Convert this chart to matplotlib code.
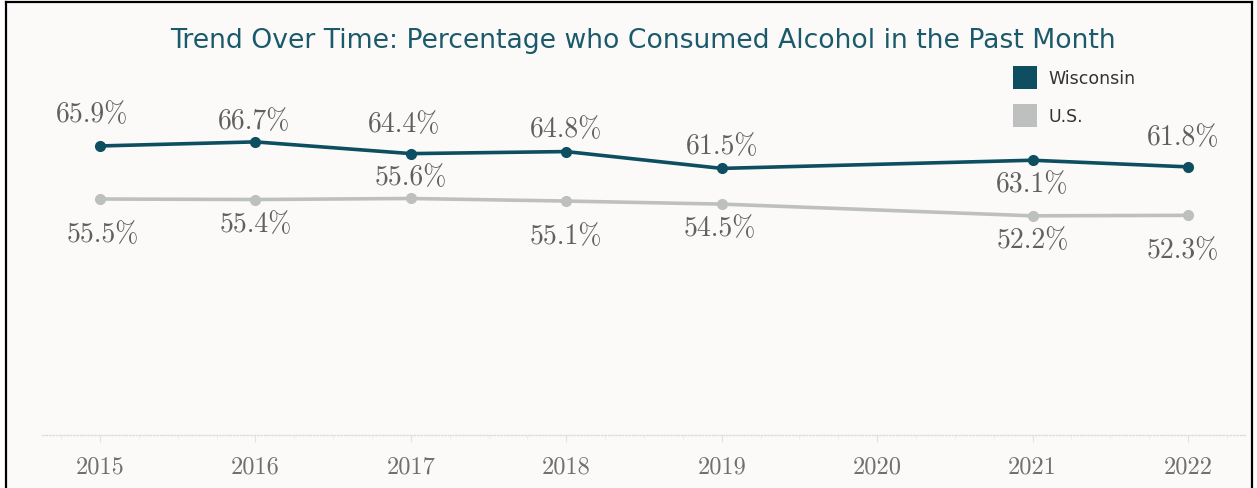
import matplotlib
matplotlib.use("Agg")
import matplotlib.pyplot as plt
from matplotlib.patches import Rectangle
from matplotlib.lines import Line2D

# --- data ---
years = [2015, 2016, 2017, 2018, 2019, 2021, 2022]
wisconsin = [65.9, 66.7, 64.4, 64.8, 61.5, 63.1, 61.8]
us = [55.5, 55.4, 55.6, 55.1, 54.5, 52.2, 52.3]
tick_years = [2015, 2016, 2017, 2018, 2019, 2020, 2021, 2022]
series_names = ["Wisconsin", "U.S."]

# label offsets in pixels (dx, dy), up is positive
wi_offsets = [(-8, 32), (-1, 21), (-7, 30), (0, 23), (0, 22), (0, -24), (-5, 30)]
us_offsets = [(3, -35), (0, -24), (0, 22), (0, -35), (-2, -24), (0, -24), (-5, -35)]

WI_COLOR = "#0d4f60"
US_COLOR = "#bec0bf"
BG = "#fbfaf9"

W, H = 1257, 489
fig = plt.figure(figsize=(W / 100, H / 100), dpi=100)
fig.patch.set_facecolor("white")


def fx(px):
    return px / W


def fy(py):
    return 1 - py / H


# panel background + frame (no bottom edge)
fig.add_artist(Rectangle((fx(6), 0), fx(1252) - fx(6), fy(3), transform=fig.transFigure,
                         facecolor=BG, edgecolor="none", zorder=-10))
for xs, ys in [([6, 6], [3, H]), ([6, 1252], [3, 3]), ([1252, 1252], [3, H])]:
    fig.add_artist(Line2D([fx(v) for v in xs], [fy(v) for v in ys], transform=fig.transFigure,
                          color="black", linewidth=1.6, zorder=10))

ax = fig.add_axes([fx(42), fy(436), fx(1245) - fx(42), fy(60) - fy(436)])
ax.set_facecolor("none")

ax.plot(years, us, color=US_COLOR, linewidth=2.6, marker="o", markersize=7,
        solid_capstyle="round", zorder=2)
ax.plot(years, wisconsin, color=WI_COLOR, linewidth=2.6, marker="o", markersize=7,
        solid_capstyle="round", zorder=3)

label_font = dict(family="cmr10", fontsize=20, color="#606060")
for x, v, (dx, dy) in zip(years, wisconsin, wi_offsets):
    ax.annotate(f"{v:.1f}%", (x, v), xytext=(dx, dy), textcoords="offset pixels",
                ha="center", va="center", **label_font)
for x, v, (dx, dy) in zip(years, us, us_offsets):
    ax.annotate(f"{v:.1f}%", (x, v), xytext=(dx, dy), textcoords="offset pixels",
                ha="center", va="center", **label_font)

ax.set_yticks([])
ax.set_xticks(tick_years)
ax.set_xticks([y + q for y in range(2014, 2023) for q in (0.25, 0.5, 0.75)], minor=True)
ax.set_xticklabels([str(y) for y in tick_years], family="cmr10", fontsize=17.5, color="#707070")
ax.set_xlim(2014.627, 2022.367)
ax.set_ylim(9.23, 82.95)
ax.tick_params(axis="x", which="major", length=5, color="#e2e2e2", pad=10)
ax.tick_params(axis="x", which="minor", length=3, color="#ebebeb")
for side in ["top", "left", "right"]:
    ax.spines[side].set_visible(False)
ax.spines["bottom"].set_color("#dcdcdc")
ax.spines["bottom"].set_linestyle((0, (1, 1.5)))
ax.spines["bottom"].set_linewidth(1)

fig.text(fx(643), fy(41), "Trend Over Time: Percentage who Consumed Alcohol in the Past Month",
         ha="center", va="center", fontsize=19.2, color="#1b5a6b", family="DejaVu Sans")

# legend
for i, (name, col) in enumerate(zip(series_names, [WI_COLOR, US_COLOR])):
    top = 67 + i * 38
    fig.add_artist(Rectangle((fx(1013), fy(top + 23)), fx(24), 23 / H, transform=fig.transFigure,
                             facecolor=col, edgecolor="none"))
    fig.text(fx(1048), fy(top + 12), name, ha="left", va="center", fontsize=12.5,
             color="#333333", family="DejaVu Sans")

fig.savefig("out.png", dpi=100, facecolor="white")
